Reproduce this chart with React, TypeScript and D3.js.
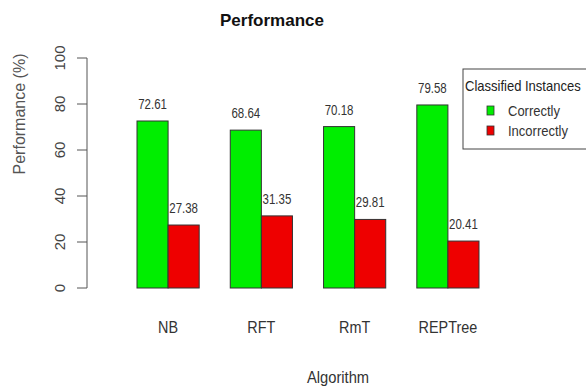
import React from "react";
import * as d3 from "d3";

const categories = ["NB", "RFT", "RmT", "REPTree"];
const seriesNames = ["Correctly", "Incorrectly"];
const correctly = [72.61, 68.64, 70.18, 79.58];
const incorrectly = [27.38, 31.35, 29.81, 20.41];
const yTicks = [0, 20, 40, 60, 80, 100];
const colors = ["#00ee00", "#ee0000"];

const W = 586;
const H = 387;
const FONT = "'Liberation Sans', Arial, sans-serif";

function T(props: { x: number; y: number; sx?: number; size: number; fill: string; anchor?: string; children: React.ReactNode; weight?: string }) {
  const { x, y, sx = 1, size, fill, anchor = "start", children, weight } = props;
  return (
    <text transform={`translate(${x},${y}) scale(${sx},1)`} textAnchor={anchor} fontSize={size} fill={fill} fontWeight={weight}>
      {children}
    </text>
  );
}

export default function App() {
  const y = d3.scaleLinear().domain([0, 100]).range([288, 58]);
  const x0 = d3.scaleBand<string>().domain(categories).range([137, 479]).paddingInner(1 / 3).paddingOuter(0);
  const x1 = d3.scaleBand<string>().domain(seriesNames).range([0, x0.bandwidth()]).padding(0);
  const values = [correctly, incorrectly];
  const axisX = 87;

  return (
    <svg width={W} height={H} style={{ position: "absolute", left: 0, top: 0, background: "#fff" }} fontFamily={FONT}>
      <rect width={W} height={H} fill="#fff" />
      <T x={272} y={26} anchor="middle" size={17} weight="bold" fill="#111">Performance</T>
      {/* y axis */}
      <line x1={axisX} x2={axisX} y1={y(0)} y2={y(100)} stroke="#555" strokeWidth={1} />
      {yTicks.map((t) => (
        <g key={t}>
          <line x1={axisX - 10} x2={axisX} y1={y(t)} y2={y(t)} stroke="#555" />
          <text transform={`translate(${65},${y(t)}) rotate(-90)`} textAnchor="middle" fontSize={15} fill="#444">{t}</text>
        </g>
      ))}
      <text transform={`translate(${25},${114}) rotate(-90)`} textAnchor="middle" fontSize={16} fill="#555">Performance (%)</text>
      {/* bars */}
      {categories.map((c, i) => (
        <g key={c} transform={`translate(${x0(c)},0)`}>
          {seriesNames.map((s, j) => {
            const v = values[j][i];
            const bx = x1(s)!;
            return (
              <g key={s}>
                <rect x={bx} y={y(v)} width={x1.bandwidth()} height={y(0) - y(v)} fill={colors[j]} stroke="#333" strokeWidth={1} />
                <T x={bx + x1.bandwidth() / 2} y={y(v) - 12} anchor="middle" size={14} sx={0.82} fill="#333">{v.toFixed(2)}</T>
              </g>
            );
          })}
          <T x={x0.bandwidth() / 2} y={333} anchor="middle" size={16} sx={0.9} fill="#333">{c}</T>
        </g>
      ))}
      <T x={338} y={383} anchor="middle" size={16} sx={0.92} fill="#333">Algorithm</T>
      {/* legend */}
      <rect x={463} y={69} width={130} height={80} fill="#fff" stroke="#444" strokeWidth={1} />
      <T x={465} y={91} size={14} sx={0.93} fill="#222">Classified Instances</T>
      {seriesNames.map((s, j) => (
        <g key={s}>
          <rect x={487} y={106 + j * 20} width={7} height={9} fill={colors[j]} stroke="#333" strokeWidth={0.8} />
          <T x={508} y={116 + j * 20} size={14} sx={0.93} fill="#333">{s}</T>
        </g>
      ))}
    </svg>
  );
}
